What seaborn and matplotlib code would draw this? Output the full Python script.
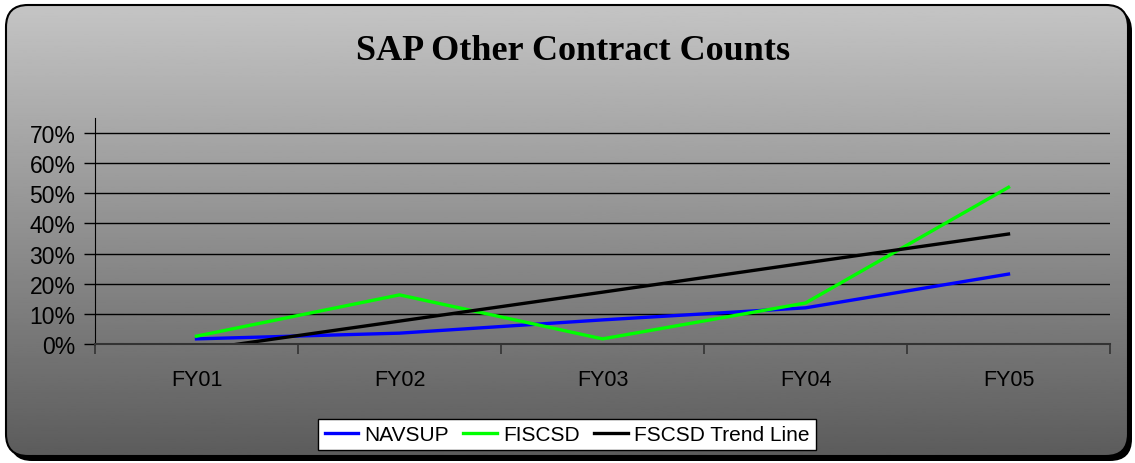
import numpy as np
import pandas as pd
import seaborn as sns
import matplotlib.pyplot as plt
from matplotlib.patches import FancyBboxPatch
from matplotlib.ticker import FuncFormatter, FixedLocator

# data (percent)
years = ['FY01', 'FY02', 'FY03', 'FY04', 'FY05']
navsup = [1.7, 3.6, 8.0, 12.0, 23.2]
fiscsd = [2.6, 16.3, 1.7, 13.6, 52.0]
trend = [-2.0, 7.6, 17.2, 26.9, 36.5]
series_names = ['NAVSUP', 'FISCSD', 'FSCSD Trend Line']
series_colors = ['#0000ff', '#00ff00', '#000000']

df = pd.DataFrame({
    'pos': list(range(len(years))) * 3,
    'value': navsup + fiscsd + trend,
    'series': [s for s in series_names for _ in years],
})

plt.rcParams['font.family'] = ['Liberation Sans', 'DejaVu Sans']

W, H = 1135, 464
fig = plt.figure(figsize=(W / 100, H / 100), dpi=100)
fig.patch.set_facecolor('white')

# background: rounded panel with vertical grey gradient and shadow
bg = fig.add_axes([0, 0, 1, 1])
bg.set_xlim(0, W)
bg.set_ylim(H, 0)
bg.axis('off')
shadow = FancyBboxPatch((10, 10), 1122, 452, boxstyle='round,pad=0,rounding_size=22',
                        facecolor='black', edgecolor='none', transform=bg.transData)
bg.add_patch(shadow)
grad = np.linspace(0.77, 0.36, 256).reshape(-1, 1)
im = bg.imshow(grad, cmap='gray', vmin=0, vmax=1, aspect='auto', extent=(6, 1128, 457, 6), zorder=2)
clip = FancyBboxPatch((6, 6), 1122, 451, boxstyle='round,pad=0,rounding_size=22',
                      facecolor='none', edgecolor='none', transform=bg.transData)
bg.add_patch(clip)
im.set_clip_path(clip)
panel = FancyBboxPatch((6, 6), 1122, 451, boxstyle='round,pad=0,rounding_size=22',
                       facecolor='none', edgecolor='black', lw=1.5, transform=bg.transData, zorder=3)
bg.add_patch(panel)

# main chart
ax = fig.add_axes([95 / W, 119 / H, 1015 / W, 226 / H])
ax.set_facecolor('none')
sns.lineplot(data=df, x='pos', y='value', hue='series', hue_order=series_names,
             palette=series_colors, linewidth=2.4, ax=ax, legend=True)

ax.set_xlim(-0.5, len(years) - 0.5)
ax.set_ylim(0, 75)
ax.set_yticks(np.arange(0, 71, 10))
ax.yaxis.set_major_formatter(FuncFormatter(lambda v, _: f'{v:.0f}%'))
for yv in np.arange(10, 71, 10):
    ax.axhline(yv, color='black', lw=1, zorder=0)

ax.set_xticks(range(len(years)))
ax.set_xticklabels(years)
ax.xaxis.set_minor_locator(FixedLocator(np.arange(-0.5, len(years), 1)))
ax.tick_params(axis='x', which='major', length=0, pad=18, labelsize=15.5)
ax.tick_params(axis='x', which='minor', length=7, width=1.2, color='#333333', direction='out')
ax.tick_params(axis='y', length=8, width=1, color='black', labelsize=16.5, pad=6)
ax.set_xlabel('')
ax.set_ylabel('')
for s in ['top', 'right']:
    ax.spines[s].set_visible(False)
ax.spines['left'].set_color('black')
ax.spines['bottom'].set_color('#333333')
ax.spines['bottom'].set_linewidth(1.5)

leg = ax.legend(loc='center', bbox_to_anchor=(567 / W, 28.5 / H), bbox_transform=fig.transFigure,
                ncol=3, frameon=True, fancybox=False, edgecolor='black', framealpha=1,
                fontsize=15, handlelength=1.6, handletextpad=0.3, columnspacing=0.7,
                borderpad=0.3)
leg.get_frame().set_linewidth(1)

fig.text(573 / W, 1 - 60 / H, 'SAP Other Contract Counts', ha='center', va='baseline',
         fontsize=26, fontweight='bold', family='Liberation Serif')

fig.savefig('out.png', dpi=100)
